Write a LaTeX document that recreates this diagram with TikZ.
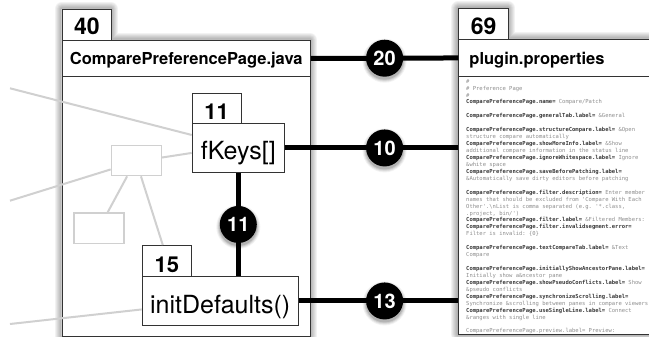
\documentclass[tikz,border=0pt]{standalone}
\usepackage{fontspec}
\setmainfont{TeX Gyre Heros}
\newfontfamily\propfont{DejaVu Sans Mono}
\usetikzlibrary{calc}
\definecolor{edge}{HTML}{333333}
\definecolor{ghost}{HTML}{D0D0D0}
\definecolor{keyink}{HTML}{3A3A3A}
\definecolor{valink}{HTML}{8E8E8E}
\newcommand\pkey[1]{\textbf{\color{keyink}#1}}
\newcommand\pval[1]{{\color{valink}#1}}
\newcommand\pblank{\mbox{}}
% soft drop shadow under a round count badge, then the badge itself
\newcommand\shadedbadge[3]{%
  \foreach \r/\o in {22/0.05,21/0.07,20/0.09,19/0.12}
    \fill[black, opacity=\o] ([yshift=-2.5pt]#1) circle[radius=\r pt];
  \node[badge] (#2) at (#1) {#3};}
% soft shadow round a panel outline, then its white face
\newcommand\panelface[1]{%
  \foreach \w in {14,12,10,8,6,4,2}
    \draw[black, opacity=0.05, line width=\w pt, line join=round] #1;
  \fill[white] #1;}
\begin{document}
\begin{tikzpicture}[x=1pt,y=-1pt,
  frame/.style={rectangle, draw=edge, line width=0.9pt, inner sep=0pt, anchor=north west},
  tabnum/.style={frame, fill=white, font=\bfseries\fontsize{23}{23}\selectfont},
  subtab/.style={frame, fill=white, font=\bfseries\fontsize{22}{22}\selectfont},
  filehead/.style={frame, font=\bfseries\fontsize{16.5}{16.5}\selectfont},
  member/.style={frame, fill=white, font=\fontsize{25}{25}\selectfont},
  faintbox/.style={rectangle, draw=ghost, line width=1.3pt, fill=white, inner sep=0pt,
    anchor=north west, minimum width=50pt},
  faint/.style={draw=ghost, line width=2pt},
  link/.style={draw=black, line width=5pt},
  badge/.style={circle, fill=black, text=white, inner sep=0pt, minimum size=37pt,
    font=\bfseries\fontsize{20}{20}\selectfont},
]
\useasboundingbox (0,0) rectangle (649,337);

% ---- panel faces with shadows ----
\panelface{(61.7,9) -- (111,9) -- (111,40) -- (310,40) -- (310,336) -- (61.7,336) -- cycle}
\panelface{(458.3,8.3) -- (508,8.3) -- (508,39) -- (678,39) -- (678,334.3) -- (458.3,334.3) -- cycle}

% ---- Java source file with its members ----
\node[frame, minimum width=248.3pt, minimum height=296pt] (cppbody) at (61.7,40) {};
\node[filehead, minimum width=248.3pt, text height=24.5pt, text depth=11.5pt] (cpphead) at (61.7,40) {ComparePreferencePage.java};
\node[tabnum, minimum width=49.3pt, text height=25.3pt, text depth=5.7pt] (tab40) at (61.7,9) {40};

\node[subtab, minimum width=49pt, text height=26.3pt, text depth=4pt] (tab11) at (191.7,92.7) {11};
\node[member, minimum width=92.3pt, text height=36pt, text depth=13pt] (fkeys) at (191.7,123) {fKeys[]};
\node[subtab, minimum width=49.3pt, text height=26.7pt, text depth=4.3pt] (tab15) at (141.7,245) {15};
\node[member, minimum width=156pt, text height=37pt, text depth=12pt] (initdef) at (141.7,276) {initDefaults()};

\node[faintbox, minimum height=30pt] (gbox1) at (110.7,145) {};
\node[faintbox, minimum height=30.7pt] (gbox2) at (73.3,212.3) {};

% ---- properties file ----
\node[frame, minimum width=220pt, minimum height=295.3pt] (ppbody) at (458.3,39) {};
\node[filehead, text width=198.6pt, inner xsep=10.7pt, align=left, text height=25.5pt, text depth=11.5pt] (pphead) at (458.3,39) {plugin.properties};
\node[tabnum, minimum width=49.7pt, text height=26pt, text depth=4.7pt] (tab69) at (458.3,8.3) {69};

\node[anchor=north west, inner sep=0pt, align=left,
      font=\propfont\fontsize{5.5}{6.94}\selectfont\frenchspacing] (props) at (466,79) {%
\pval{\#}\\
\pval{\# Preference Page}\\
\pval{\#}\\
\pkey{ComparePreferencePage.name=} \pval{Compare/Patch}\\
\pblank\\
\pkey{ComparePreferencePage.generalTab.label=} \pval{\&General}\\
\pblank\\
\pkey{ComparePreferencePage.structureCompare.label=} \pval{\&Open}\\
\pval{structure compare automatically}\\
\pkey{ComparePreferencePage.showMoreInfo.label=} \pval{\&Show}\\
\pval{additional compare information in the status line}\\
\pkey{ComparePreferencePage.ignoreWhitespace.label=} \pval{Ignore}\\
\pval{\&white space}\\
\pkey{ComparePreferencePage.saveBeforePatching.label=}\\
\pval{\&Automatically save dirty editors before patching}\\
\pblank\\
\pkey{ComparePreferencePage.filter.description=} \pval{Enter member}\\
\pval{names that should be excluded from 'Compare With Each}\\
\pval{Other'.\textbackslash nList is comma separated (e.g. '*.class,}\\
\pval{.project, bin/')}\\
\pkey{ComparePreferencePage.filter.label=} \pval{\&Filtered Members:}\\
\pkey{ComparePreferencePage.filter.invalidsegment.error=}\\
\pval{Filter is invalid: \{0\}}\\
\pblank\\
\pkey{ComparePreferencePage.textCompareTab.label=} \pval{\&Text}\\
\pval{Compare}\\
\pblank\\
\pkey{ComparePreferencePage.initiallyShowAncestorPane.label=}\\
\pval{Initially show a\&ncestor pane}\\
\pkey{ComparePreferencePage.showPseudoConflicts.label=} \pval{Show}\\
\pval{\&pseudo conflicts}\\
\pkey{ComparePreferencePage.synchronizeScrolling.label=}\\
\pval{Synchronize \&scrolling between panes in compare viewers}\\
\pkey{ComparePreferencePage.useSingleLine.label=} \pval{Connect}\\
\pval{\&ranges with single line}\\
\pblank\\
\pval{ComparePreferencePage.preview.label= Preview:}};

% ---- faded context edges ----
\coordinate (w1) at (10,88.3);
\coordinate (w2) at (10,200.7);
\coordinate (w3) at (10,324);
\draw[faint] (w1) -- ($(fkeys.north west)!0.24!(fkeys.south west)$);
\draw[faint] ($(gbox1.north east)!0.4!(gbox1.south east)$) -- ($(fkeys.north west)!0.6!(fkeys.south west)$);
\draw[faint] (w2) -- ($(gbox1.north west)!0.78!(gbox1.south west)$);
\draw[faint] ($(gbox1.south west)!0.32!(gbox1.south east)$) -- ($(gbox2.north west)!0.67!(gbox2.north east)$);
\draw[faint] ($(gbox1.south west)!0.59!(gbox1.south east)$) -- ($(tab15.north west)!0.42!(tab15.north east)$);
\draw[faint] (w3) -- ($(initdef.north west)!0.67!(initdef.south west)$);

% ---- dependency links with counts ----
\draw[link] (cpphead.east) -- (pphead.west);
\draw[link] (fkeys.east) -- (fkeys.east -| ppbody.west);
\draw[link] (initdef.east) -- (initdef.east -| ppbody.west);
\draw[link] (fkeys.south) -- (fkeys.south |- initdef.north);
\coordinate (c20) at ($(cpphead.east)!0.5!(pphead.west)$);
\coordinate (c10) at (fkeys.east -| c20);
\coordinate (c13) at (initdef.east -| c20);
\coordinate (c11) at ($(fkeys.south)!0.5!(fkeys.south |- initdef.north)$);
\shadedbadge{c20}{b20}{20}
\shadedbadge{c10}{b10}{10}
\shadedbadge{c13}{b13}{13}
\shadedbadge{c11}{b11}{11}
\end{tikzpicture}
\end{document}
